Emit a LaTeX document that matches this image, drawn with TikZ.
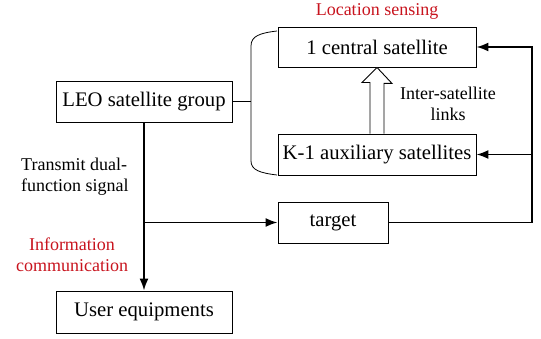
\documentclass[tikz,border=0pt]{standalone}
\usepackage{fontspec}
\setmainfont{Liberation Serif}
\usetikzlibrary{arrows.meta,calc}
\definecolor{labelred}{RGB}{200,20,30}
\tikzset{ box/.style = { rectangle % block
        , draw
        , line width = 0.9pt
        , inner sep = 0pt
        , font = \fontsize{20.7}{23}\selectfont
        }
        , note/.style = { rectangle % side text
        , align = center
        , inner sep = 0pt
        , font = \fontsize{18}{21}\selectfont
        }
        }

\begin{document}
\begin{tikzpicture}[x=1pt, y=-1pt, line join=miter,
        edge_style/.style={draw=black, line width=1.8pt, -{Latex[length=12pt,width=9pt]}},
        red_note/.style={note, text=labelred}]
        \useasboundingbox (0,0) rectangle (541,339);

        \node [box, minimum width=198pt, minimum height=40pt](central) at (377,47) {1 central satellite};
        \node [box, minimum width=198pt, minimum height=41pt](aux) at (377,154.5) {K-1 auxiliary satellites};
        \node [box, minimum width=176pt, minimum height=41pt](leo) at (144,101.5) {LEO satellite group};
        \node [box, minimum width=110pt, minimum height=41pt](target) at (333,222.5) {target};
        \node [box, minimum width=176pt, minimum height=42pt](ue) at (144,312) {User equipments};

        \node [red_note](sensing) at (377,11) {Location sensing};
        \node [note](links) at (448,104) {Inter-satellite\\links};
        \node [note, align=left, anchor=west](transmit) at (21,177) {Transmit dual-\\function signal};
        \node [red_note](comm) at (72,255) {Information\\communication};

        % brace round the two satellite blocks
        \coordinate (brace) at (251,101.5);
        \draw [line width=0.8pt] (277,31) .. controls (260,33) and (251,36) .. (251,46)
                -- (251,161) .. controls (251,170) and (260,173) .. (277,175);
        \draw [line width=1.8pt] (leo.east) -- (brace);

        % hollow arrow for the inter-satellite links
        \draw [line width=0.9pt, fill=white] ($(aux.north)+(-7,0)$) -- ++(0,-51) -- ++(-8,0)
                -- (central.south) -- ++(15,16) -- ++(-8,0) -- ($(aux.north)+(7,0)$);

        % signal paths
        \coordinate (split) at (leo.south |- target.west);
        \draw [edge_style] (leo.south) -- (ue.north);
        \draw [edge_style] (split) -- (target.west);
        \coordinate (back) at (532,222.5);
        \draw [edge_style] (target.east) -- (back) |- (central.east);
        \draw [edge_style] (back |- aux.east) -- (aux.east);
\end{tikzpicture}
\end{document}
